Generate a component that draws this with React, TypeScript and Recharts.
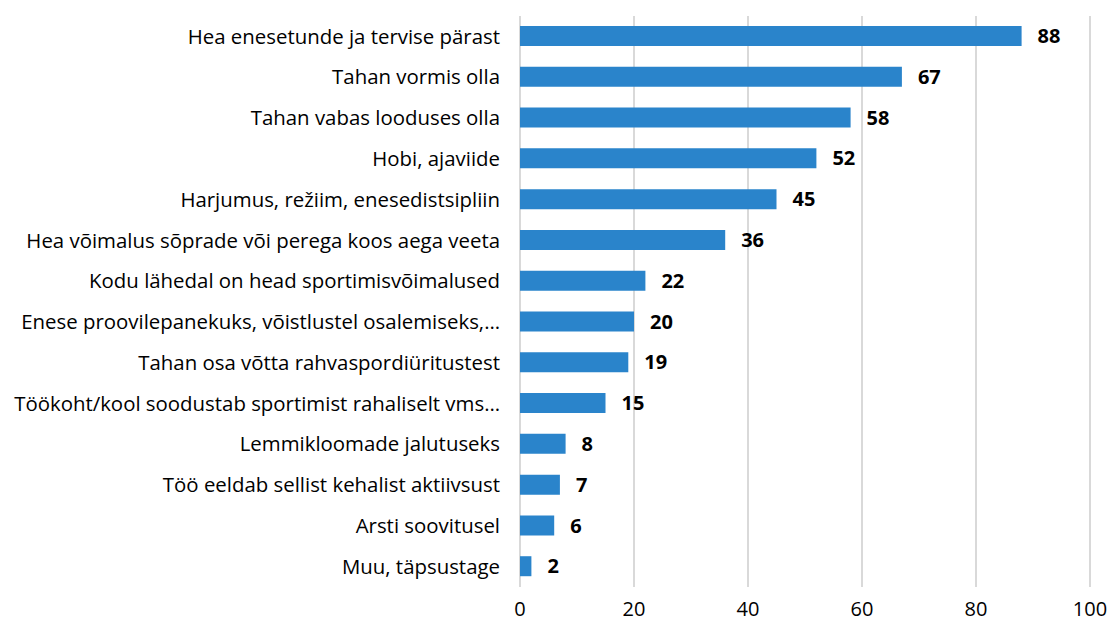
import { BarChart, Bar, XAxis, YAxis, CartesianGrid, LabelList } from 'recharts';

const categories = [
  'Hea enesetunde ja tervise pärast',
  'Tahan vormis olla',
  'Tahan vabas looduses olla',
  'Hobi, ajaviide',
  'Harjumus, režiim, enesedistsipliin',
  'Hea võimalus sõprade või perega koos aega veeta',
  'Kodu lähedal on head sportimisvõimalused',
  'Enese proovilepanekuks, võistlustel osalemiseks,…',
  'Tahan osa võtta rahvaspordiüritustest',
  'Töökoht/kool soodustab sportimist rahaliselt vms…',
  'Lemmikloomade jalutuseks',
  'Töö eeldab sellist kehalist aktiivsust',
  'Arsti soovitusel',
  'Muu, täpsustage',
];

const values = [88, 67, 58, 52, 45, 36, 22, 20, 19, 15, 8, 7, 6, 2];

const xTicks = [0, 20, 40, 60, 80, 100];

const data = categories.map((name, i) => ({ name, value: values[i] }));

const FONT = '"Open Sans", sans-serif';

export default function App() {
  return (
    <div style={{ position: 'absolute', left: 0, top: 0, background: '#fff' }}>
      <BarChart
        width={1113}
        height={628}
        data={data}
        layout="vertical"
        margin={{ top: 16, right: 23, bottom: 0, left: 0 }}
      >
        <CartesianGrid horizontal={false} stroke="#d9d9d9" strokeWidth={2} />
        <XAxis
          type="number"
          domain={[0, 100]}
          ticks={xTicks}
          axisLine={false}
          tickLine={false}
          tickSize={0}
          tickMargin={15}
          height={41}
          tick={{ fill: '#000', fontSize: 20, fontFamily: FONT }}
        />
        <YAxis
          type="category"
          dataKey="name"
          width={520}
          axisLine={false}
          tickLine={false}
          tickSize={0}
          tickMargin={20}
          interval={0}
          tick={{ fill: '#000', fontSize: 20.4, fontFamily: FONT }}
        />
        <Bar dataKey="value" fill="#2a84cb" barSize={20} isAnimationActive={false}>
          <LabelList
            dataKey="value"
            position="right"
            offset={16}
            fill="#000"
            fontSize={20}
            fontWeight="bold"
            fontFamily={FONT}
          />
        </Bar>
      </BarChart>
    </div>
  );
}
